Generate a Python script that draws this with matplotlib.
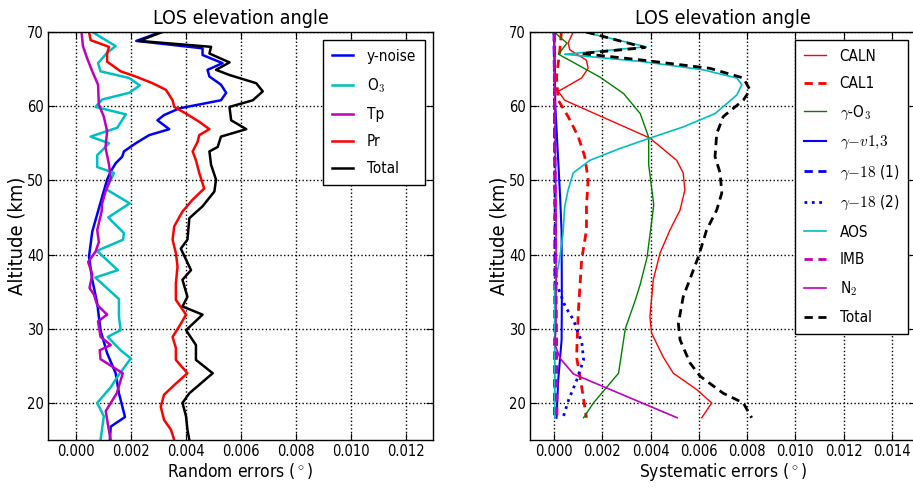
#!/usr/bin/env python
# -*- coding: utf-8 -*-
"""
LOS elevation angle error budget: random and systematic errors vs altitude.
"""

# Third party modules.
import numpy as np
import matplotlib
matplotlib.use("Agg")
import matplotlib.pyplot as plt
from matplotlib.ticker import FormatStrFormatter

# Globals and constants variables.
# values are in units of 1e-3 degree, altitudes in km

# random errors
noise_alt = [70, 68.8, 67.8, 66.9, 65.8, 64.9, 64.0, 62.9, 61.8, 60.8, 59.7, 58.8, 58.1,
             56.9, 56.1, 55.0, 53.9, 53.2, 52.3, 51.2, 50.1, 47.8, 43.1, 39.7, 36.6, 33.4,
             29.8, 26.7, 24.0, 21.3, 18.1, 16.8, 15.0]
noise_val = [3.10, 2.21, 4.62, 4.62, 5.35, 4.80, 4.87, 5.29, 5.48, 5.29, 3.77, 3.22, 2.98,
             3.41, 2.68, 2.19, 1.76, 1.70, 1.46, 1.28, 1.15, 0.97, 0.61, 0.49, 0.61, 0.79,
             0.91, 1.15, 1.46, 1.58, 1.80, 1.28, 1.25]

o3_alt = [70, 68.1, 67.2, 65.8, 64.7, 63.8, 62.8, 61.8, 60.9, 59.9, 58.9, 57.1, 55.9, 55.0,
          53.4, 51.8, 51.0, 48.8, 46.9, 45.0, 42.9, 42.0, 40.5, 37.9, 36.9, 34.0, 31.7,
          29.8, 28.9, 27.1, 26.0, 23.5, 22.1, 20.0, 18.2, 15.0]
o3_val = [0.61, 1.46, 1.15, 0.82, 0.91, 1.95, 2.34, 1.95, 0.97, 0.73, 1.83, 1.52, 0.55, 1.22,
          0.79, 0.79, 1.40, 1.12, 1.97, 1.19, 1.76, 1.73, 0.78, 1.54, 0.72, 1.58, 1.58,
          1.64, 1.17, 1.64, 2.01, 1.52, 1.28, 0.79, 1.03, 0.91]

tp_alt = [70, 68.1, 66.5, 64.7, 62.9, 60.2, 58.6, 56.6, 54.4, 52.1, 50.3, 48.5, 46.9, 45.8,
          43.3, 41.7, 40.4, 39.0, 37.3, 35.5, 34.6, 33.2, 31.9, 31.0, 28.9, 27.8, 27.1,
          25.9, 24.0, 21.3, 18.9, 16.6, 15.0]
tp_val = [0.22, 0.27, 0.42, 0.61, 0.82, 0.85, 1.03, 1.15, 1.09, 1.22, 1.28, 1.09, 0.97, 0.95,
          0.79, 0.85, 0.73, 0.46, 0.61, 0.51, 0.67, 0.79, 1.15, 0.82, 0.91, 1.28, 0.88,
          0.91, 1.72, 1.50, 1.10, 1.20, 1.28]

pr_alt = [70, 68.9, 68.0, 67.1, 66.0, 64.7, 64.0, 63.1, 62.2, 60.8, 59.9, 59.0, 57.9, 56.9,
          56.1, 55.2, 53.9, 52.7, 51.0, 48.9, 47.4, 45.8, 43.8, 42.0, 40.2, 38.4, 36.1,
          33.9, 31.9, 30.3, 28.9, 27.4, 25.8, 24.0, 22.4, 21.1, 19.5, 17.7, 16.4, 15.0]
pr_val = [0.49, 0.55, 1.22, 1.15, 1.15, 1.64, 2.19, 2.80, 3.29, 3.53, 3.59, 4.02, 4.50, 4.87,
          4.50, 4.44, 4.26, 4.38, 4.50, 4.68, 4.26, 3.89, 3.59, 3.53, 3.65, 3.71, 3.65,
          3.65, 4.02, 3.77, 3.53, 3.65, 3.65, 4.07, 3.59, 3.22, 3.10, 3.22, 3.47, 3.59]

rtot_alt = [70, 68.8, 68.0, 67.1, 65.9, 64.9, 64.2, 63.1, 62.0, 60.8, 59.9, 58.1, 56.9, 55.9,
            54.5, 53.9, 52.1, 50.1, 48.5, 46.5, 44.9, 42.0, 40.8, 37.9, 36.6, 34.3, 33.0,
            31.9, 29.8, 27.8, 25.8, 24.0, 21.3, 20.0, 18.2, 16.4, 15.0]
rtot_val = [3.16, 2.31, 4.93, 4.87, 5.60, 5.11, 5.60, 6.57, 6.81, 6.45, 5.60, 5.66, 6.21, 5.29,
            5.17, 4.87, 4.93, 5.11, 5.05, 4.62, 4.14, 4.07, 3.83, 4.20, 3.89, 4.07, 3.89,
            4.62, 4.02, 4.38, 4.38, 4.99, 4.14, 3.89, 4.02, 4.07, 4.14]

# systematic errors
caln_alt = [70, 68.5, 67.6, 66.2, 65.1, 63.8, 62.0, 60.8, 59.5, 55.7, 52.7, 51.0, 48.7, 46.0,
            43.3, 40.2, 36.6, 31.6, 29.4, 26.2, 24.0, 21.8, 20.0, 18.0]
caln_val = [0.79, 0.58, 0.65, 1.34, 1.41, 1.14, 0.17, 0.44, 1.34, 3.97, 5.08, 5.35, 5.42, 5.22,
            4.80, 4.39, 4.11, 3.97, 4.04, 4.52, 4.94, 5.91, 6.53, 6.12]

cal1_alt = [70, 67.6, 64.0, 60.8, 58.6, 55.9, 53.2, 50.1, 46.5, 43.3, 39.3, 32.1, 26.2, 22.2, 18.0]
cal1_val = [0.30, 0.24, 0.10, 0.17, 0.58, 1.00, 1.27, 1.41, 1.34, 1.34, 1.14, 1.00, 0.93, 1.14, 1.34]

go3_alt = [70, 68.5, 67.0, 65.9, 63.9, 61.7, 59.0, 55.8, 52.1, 46.7, 43.1, 39.6, 36.0, 33.9,
           30.0, 24.0, 20.0, 18.0]
go3_val = [0.0, 0.53, 0.18, 0.80, 1.91, 2.88, 3.57, 3.92, 3.92, 4.13, 3.99, 3.85, 3.57, 3.37,
           2.95, 2.67, 1.63, 1.22]

gv13_alt = [70, 60, 52, 47.6, 43, 33.7, 28.5, 23.1, 18.0]
gv13_val = [0.0, 0.05, 0.18, 0.25, 0.31, 0.32, 0.31, 0.17, 0.10]

g18a_alt = [70, 50, 35, 18]
g18a_val = [0.0, 0.03, 0.03, 0.02]

g18b_alt = [70, 40, 36.1, 33.0, 31.2, 28.1, 25.8, 23.1, 20.4, 17.9]
g18b_val = [0.0, 0.05, 0.10, 0.46, 0.80, 1.15, 1.22, 0.94, 0.60, 0.36]

aos_alt = [70, 68.0, 67.0, 66.0, 64.9, 63.8, 62.9, 61.5, 59.0, 57.2, 55.7, 54.3, 52.7, 51.0,
           48.7, 46.5, 42.9, 39.7, 35.7, 18.0]
aos_val = [1.22, 3.82, 0.44, 3.69, 6.18, 7.57, 7.78, 7.57, 6.67, 5.35, 3.97, 2.73, 1.48, 0.79,
           0.58, 0.44, 0.37, 0.24, 0.03, 0.03]

imb_alt = [70, 50, 30, 18]
imb_val = [0.0, 0.04, 0.10, 0.12]

n2_alt = [70, 45, 30, 28.0, 26.0, 23.9, 18.0]
n2_val = [0.0, 0.08, 0.08, 0.02, 0.25, 0.80, 5.10]

stot_alt = [70, 67.9, 67.1, 66.2, 65.1, 63.8, 62.2, 60.8, 58.6, 56.3, 53.2, 51.0, 48.3, 46.0,
            43.3, 39.7, 34.3, 30.7, 28.5, 25.4, 23.6, 21.3, 20.0, 18.0]
stot_val = [1.34, 3.76, 1.14, 3.69, 6.46, 7.84, 8.12, 7.84, 7.01, 6.74, 6.67, 6.88, 6.95, 6.74,
            6.32, 5.98, 5.35, 5.15, 5.22, 5.63, 6.05, 7.01, 7.84, 8.19]

DASH = (3, 2)


def deg(values):
    return np.asarray(values) * 1e-3


def style_axes(ax, xmax):
    ax.set_ylim(15, 70)
    ax.set_xlim(-0.001, xmax)
    ax.set_xticks(np.arange(0, xmax - 0.0005, 0.002))
    ax.xaxis.set_major_formatter(FormatStrFormatter("%.3f"))
    ax.set_yticks([20, 30, 40, 50, 60, 70])
    ax.tick_params(direction="in", top=True, right=True, length=5, labelsize=10.5, pad=3)
    ax.grid(True, color="k", linestyle=":", linewidth=1.0)
    ax.set_title("LOS elevation angle", fontsize=14)
    ax.set_ylabel("Altitude (km)", fontsize=14.5, labelpad=0.5)


def make_legend(ax):
    leg = ax.legend(loc="upper right", fontsize=11, handlelength=1.4, handletextpad=0.9,
                    labelspacing=0.8, borderpad=0.6, fancybox=False, framealpha=1)
    leg.get_frame().set_edgecolor("k")


def run():
    plt.rcParams["font.family"] = ["DejaVu Sans"]
    plt.rcParams["font.stretch"] = "condensed"
    plt.rcParams["mathtext.fontset"] = "cm"
    plt.rcParams["axes.linewidth"] = 1.0

    fig = plt.figure(figsize=(9.13, 4.88), dpi=100)
    W, H = 913.0, 488.0
    ax1 = fig.add_axes([48 / W, 48 / H, 385 / W, 408 / H])
    ax2 = fig.add_axes([530 / W, 48 / H, 386 / W, 408 / H])

    # random errors
    ax1.plot(deg(noise_val), noise_alt, color="b", lw=1.8, label="y-noise")
    ax1.plot(deg(o3_val), o3_alt, color="c", lw=1.8, label=r"O$_3$")
    ax1.plot(deg(tp_val), tp_alt, color="m", lw=1.8, label="Tp")
    ax1.plot(deg(pr_val), pr_alt, color="r", lw=1.8, label="Pr")
    ax1.plot(deg(rtot_val), rtot_alt, color="k", lw=1.8, label="Total")
    style_axes(ax1, 0.013)
    ax1.set_xlabel(r"Random errors ($^\circ$)", fontsize=12.5, labelpad=1)
    make_legend(ax1)

    # systematic errors
    ax2.plot(deg(caln_val), caln_alt, color="r", lw=1.0, label="CALN")
    ax2.plot(deg(cal1_val), cal1_alt, color="r", lw=2.0, dashes=DASH, label="CAL1")
    ax2.plot(deg(go3_val), go3_alt, color="g", lw=1.0, label=r"$\gamma$-O$_3$")
    ax2.plot(deg(gv13_val), gv13_alt, color="b", lw=1.5, label=r"$\gamma{-}v1{,}3$")
    ax2.plot(deg(g18a_val), g18a_alt, color="b", lw=2.0, dashes=DASH, label=r"$\gamma{-}18$ (1)")
    ax2.plot(deg(g18b_val), g18b_alt, color="b", lw=2.0, linestyle=":", label=r"$\gamma{-}18$ (2)")
    ax2.plot(deg(aos_val), aos_alt, color="c", lw=1.2, label="AOS")
    ax2.plot(deg(imb_val), imb_alt, color="m", lw=2.0, dashes=DASH, label="IMB")
    ax2.plot(deg(n2_val), n2_alt, color="m", lw=1.2, label=r"N$_2$")
    ax2.plot(deg(stot_val), stot_alt, color="k", lw=2.0, dashes=DASH, label="Total")
    style_axes(ax2, 0.015)
    ax2.set_xlabel(r"Systematic errors ($^\circ$)", fontsize=12.5, labelpad=1)
    make_legend(ax2)

    fig.savefig("out.png", dpi=100, facecolor="white")


def main():
    run()


if __name__ == '__main__':
    main()
